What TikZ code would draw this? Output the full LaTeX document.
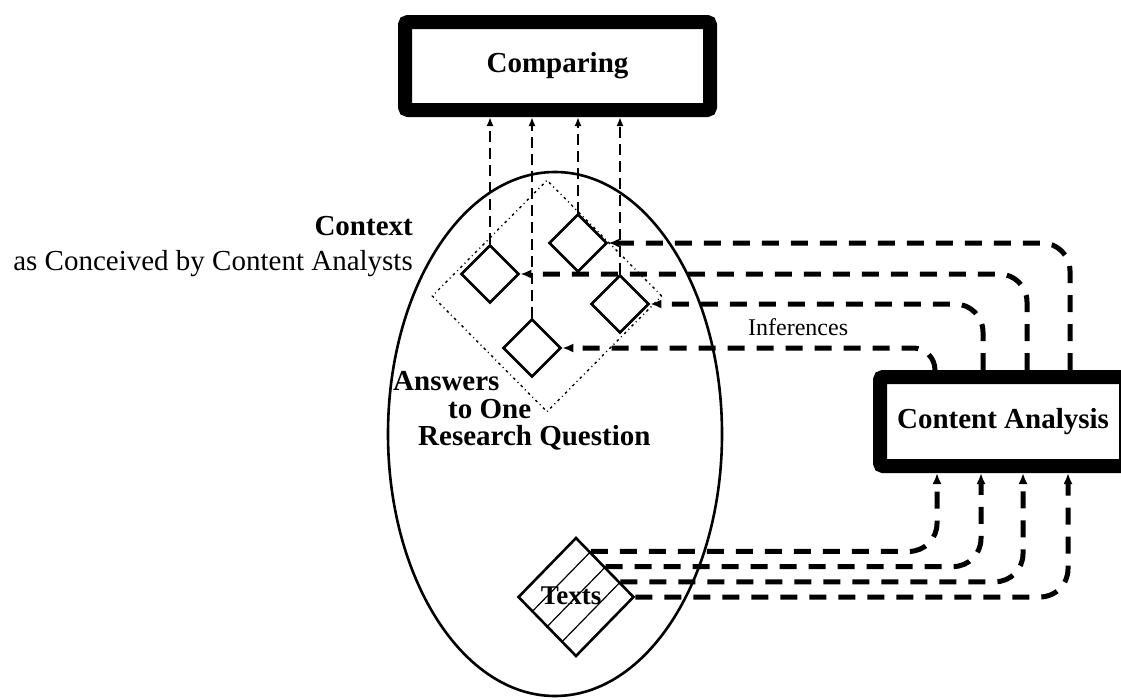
\documentclass[tikz,border=0pt]{standalone}
\usepackage{fontspec}
\setmainfont{Liberation Serif}
\usetikzlibrary{shapes.geometric,arrows.meta,calc}
\begin{document}
\begin{tikzpicture}[x=1pt,y=-1pt,
  bigbox/.style={draw, line width=14pt, rounded corners=3pt, inner sep=0pt,
                 font=\fontsize{29}{30}\selectfont\bfseries},
  item/.style={draw, diamond, line width=2.6pt, minimum width=58pt,
               minimum height=58pt, inner sep=0pt},
  feed/.style={line width=5pt, dash pattern=on 17pt off 12pt, rounded corners=28pt,
               -{Latex[length=11pt,width=9pt]}},
  cmpline/.style={line width=1.8pt, dash pattern=on 11pt off 6pt,
                  -{Latex[length=9pt,width=7pt]}},
  lbl/.style={font=\fontsize{29}{30}\selectfont, inner sep=0pt},
  blbl/.style={font=\fontsize{29}{30}\selectfont\bfseries, inner sep=0pt},
]
\fill[white] (0,0) rectangle (1121,699);
\useasboundingbox (0,0) rectangle (1121,699);

% the two processing boxes
\node[bigbox, minimum width=305pt, minimum height=88pt] (cmp) at (557.5,66) {Comparing};
\node[bigbox, minimum width=246pt, minimum height=89pt] (ca) at (1003,421.5) {Content Analysis};

% the context
\node[draw, ellipse, line width=2.6pt, minimum width=334pt, minimum height=524pt,
      inner sep=0pt] (ctx) at (555,434) {};
\node[blbl, anchor=base east] (ctxt) at (413,235) {Context};
\node[lbl, anchor=base east] (conc) at (413,270) {as Conceived by Content Analysts};

% the space of answers
\node[draw, diamond, line width=1.4pt, dash pattern=on 2.5pt off 3.5pt on 1pt off 3.5pt,
      minimum width=230pt, minimum height=232pt, inner sep=0pt] (ans) at (547,296) {};
\node[blbl, anchor=base west] (ans1) at (393,390) {Answers};
\node[blbl, anchor=base west] (ans2) at (448,418) {to One};
\node[blbl, anchor=base west] (ans3) at (418,445) {Research Question};

% possible answers
\node[item] (A) at (490,274) {};
\node[item] (B) at (578,243) {};
\node[item] (C) at (620,304) {};
\node[item] (D) at (532,348) {};

% texts
\node[item, minimum width=116pt, minimum height=119pt] (T) at (576,597) {};
\foreach \f in {0.25,0.5,0.75}
  \draw[line width=1.2pt] ($(T.west)!\f!(T.south)$) -- ($(T.north)!\f!(T.east)$);
\node[blbl, font=\fontsize{27}{30}\selectfont\bfseries] (tl) at (571,596) {Texts};

% answers go up to comparing
\foreach \n in {A,D,B,C}
  \draw[cmpline] (\n.north) -- (\n.north |- cmp.south);

% inferences from content analysis to answers
\draw[feed] ([xshift=197pt]ca.north west) |- (B.east);
\draw[feed] ([xshift=154pt]ca.north west) |- (A.east);
\draw[feed] ([xshift=110pt]ca.north west) |- (C.east);
\draw[feed, rounded corners=22pt] ([xshift=62pt]ca.north west) |- (D.east);
\node[font=\fontsize{24}{26}\selectfont, anchor=base west, inner sep=0pt] (inf) at (748,335) {Inferences};

% texts feed content analysis
\draw[feed] ($(T.north)!0.25!(T.east)$) -| ([xshift=64pt]ca.south west);
\draw[feed] ($(T.north)!0.5!(T.east)$) -| ([xshift=108pt]ca.south west);
\draw[feed] ($(T.north)!0.75!(T.east)$) -| ([xshift=150pt]ca.south west);
\draw[feed] (T.east) -| ([xshift=195pt]ca.south west);
\end{tikzpicture}
\end{document}
